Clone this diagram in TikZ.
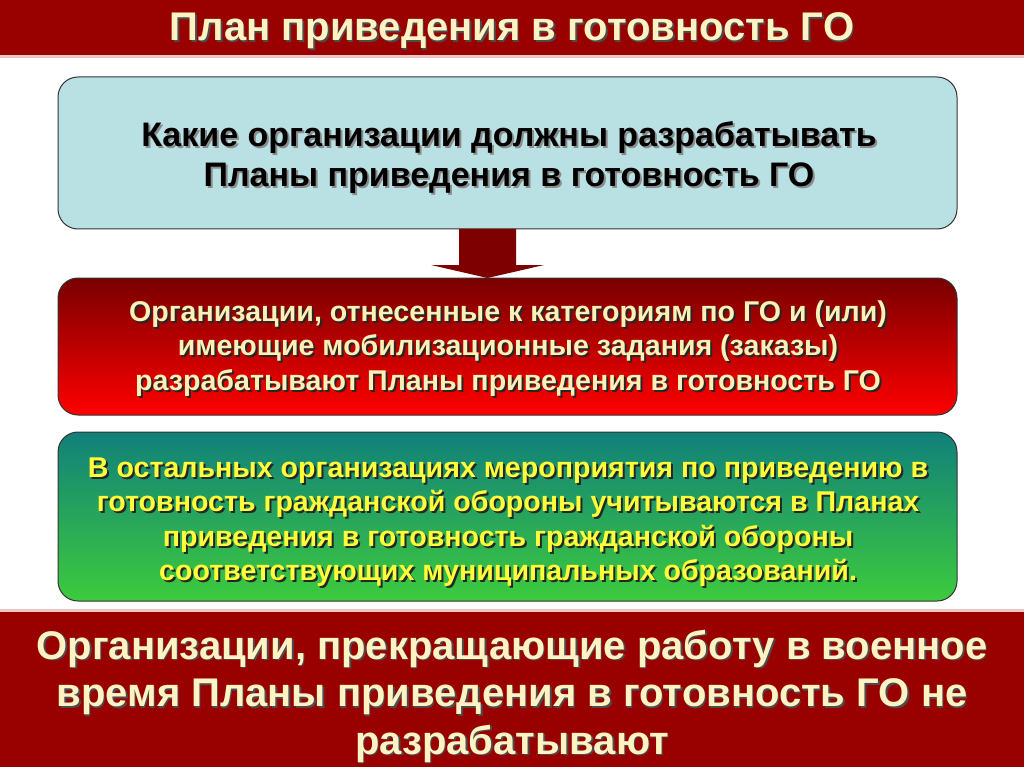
\documentclass[tikz,border=0pt]{standalone}
\usepackage{fontspec}
\setmainfont{Liberation Sans}
\definecolor{barred}{HTML}{990000}
\definecolor{cream}{HTML}{FFF3C4}
\definecolor{topfill}{HTML}{B9E0E3}
\definecolor{arrowred}{HTML}{7F0000}
\definecolor{boxtxt}{HTML}{FFF0B8}
\definecolor{greentxt}{HTML}{FFFF3A}
\definecolor{pinkline}{HTML}{EFC4C4}
\definecolor{gtop}{HTML}{11807A}
\definecolor{gbot}{HTML}{3DCB3D}
\tikzset{
  panel/.style={rounded corners=20pt, draw=black!80, line width=1pt},
  bartext/.style={text=cream, align=center, font=\bfseries\fontsize{40}{47.5}\selectfont},
  barshadow/.style={text=black!70, align=center, font=\bfseries\fontsize{40}{47.5}\selectfont},
  boxtext/.style={align=center, font=\bfseries\fontsize{28.6}{34.3}\selectfont},
}
\begin{document}
\begin{tikzpicture}[x=1pt,y=-1pt]
\useasboundingbox (0,0) rectangle (1024,767);
\fill[white] (0,0) rectangle (1024,767);
% title bar
\fill[barred] (0,0) rectangle (1024,55);
\fill[pinkline] (0,55) rectangle (1024,58);
\node[barshadow] (titles) at (513.5,32.5) {План приведения в готовность ГО};
\node[bartext] (title) at (512,31) {План приведения в готовность ГО};
% top box
\node[panel, fill=topfill, minimum width=899pt, minimum height=152pt] (q) at (507.5,153) {};
\node[boxtext, text=black!45, font=\bfseries\fontsize{34}{40}\selectfont] (qs) at (511,160) {Какие организации должны разрабатывать\\Планы приведения в готовность ГО};
\node[boxtext, text=black, font=\bfseries\fontsize{34}{40}\selectfont] (qt) at (509,158) {Какие организации должны разрабатывать\\Планы приведения в готовность ГО};
% red box
\node[panel, top color=arrowred!95!black, bottom color=red, minimum width=899pt, minimum height=137pt] (r) at (507.5,346.5) {};
\node[boxtext, text=black!85] (rs) at (510,350.5) {Организации, отнесенные к категориям по ГО и (или)\\имеющие мобилизационные задания (заказы)\\разрабатывают Планы приведения в готовность ГО};
\node[boxtext, text=boxtxt] (rt) at (508,348.5) {Организации, отнесенные к категориям по ГО и (или)\\имеющие мобилизационные задания (заказы)\\разрабатывают Планы приведения в готовность ГО};
% arrow
\fill[arrowred] (459,229) -- (516,229) -- (516,265) -- (544,265) -- (487.5,278) -- (431,265) -- (459,265) -- cycle;
% green box
\node[panel, top color=gtop, bottom color=gbot, minimum width=899pt, minimum height=169pt] (g) at (507.5,516.5) {};
\node[boxtext, text=black!85] (gs) at (510,524) {В остальных организациях мероприятия по приведению в\\готовность гражданской обороны учитываются в Планах\\приведения в готовность гражданской обороны\\соответствующих муниципальных образований.};
\node[boxtext, text=greentxt] (gt) at (508,522) {В остальных организациях мероприятия по приведению в\\готовность гражданской обороны учитываются в Планах\\приведения в готовность гражданской обороны\\соответствующих муниципальных образований.};
% bottom bar
\fill[pinkline] (0,609) rectangle (1024,612);
\fill[barred] (0,612) rectangle (1024,767);
\node[barshadow] (bottoms) at (513.5,697.5) {Организации, прекращающие работу в военное\\время Планы приведения в готовность ГО не\\разрабатывают};
\node[bartext] (bottom) at (512,696) {Организации, прекращающие работу в военное\\время Планы приведения в готовность ГО не\\разрабатывают};
\end{tikzpicture}
\end{document}
